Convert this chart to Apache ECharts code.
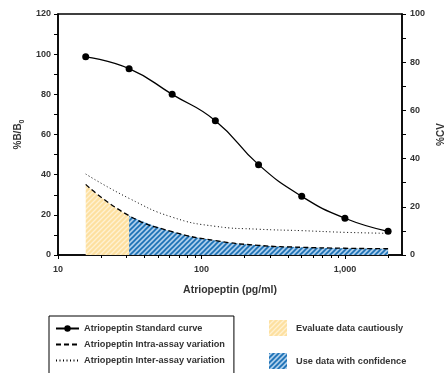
<!DOCTYPE html>
<html>
<head>
<meta charset="utf-8">
<script src="https://cdn.jsdelivr.net/npm/echarts@6/dist/echarts.min.js"></script>
<style>html,body{margin:0;padding:0;background:#fff}#c{width:448px;height:373px}</style>
</head>
<body>
<div id="c"></div>
<script>
const concentrations = [15.6, 31.3, 62.5, 125, 250, 500, 1000, 2000];
const standardCurve = [98.7, 92.8, 80.0, 66.9, 45.0, 29.2, 18.3, 11.8];
const intraAssayCV = [29.3, 16.3, 9.7, 6.0, 4.0, 3.2, 2.8, 2.6];
const interAssayCV = [33.6, 23.5, 15.7, 11.9, 10.7, 10.1, 9.4, 9.0];
const xMajorTicks = [10, 100, 1000];
const xMinorTicks = [20, 30, 40, 50, 60, 70, 80, 90, 200, 300, 400, 500, 600, 700, 800, 900, 2000];
const seriesNames = ['Atriopeptin Standard curve', 'Atriopeptin Intra-assay variation', 'Atriopeptin Inter-assay variation'];
const zoneNames = ['Evaluate data cautiously', 'Use data with confidence'];
const confidenceStart = 31.3;

function pair(xs, ys) { return xs.map((x, i) => [x, ys[i]]); }
function stripes(bg, fg, size, w) {
  const c = document.createElement('canvas');
  c.width = size; c.height = size;
  const g = c.getContext('2d');
  g.fillStyle = bg; g.fillRect(0, 0, size, size);
  g.strokeStyle = fg; g.lineWidth = w; g.lineCap = 'square';
  g.beginPath();
  g.moveTo(-size, size); g.lineTo(size, -size);
  g.moveTo(0, 2 * size); g.lineTo(2 * size, 0);
  g.moveTo(-size / 2, size * 1.5); g.lineTo(size * 1.5, -size / 2);
  g.stroke();
  return c;
}
const yellowPat = { image: stripes('#fde0a0', '#fff1d2', 5, 1.3), repeat: 'repeat' };
const bluePat = { image: stripes('#aaccea', '#1a70b5', 5, 1.6), repeat: 'repeat' };

const FONT = 'Liberation Sans';
const txt = { fontFamily: FONT, fontWeight: 'bold', fontSize: 9, color: '#333' };
const gridRect = { left: 58, top: 14, right: 46, bottom: 118, outerBoundsMode: 'none', containLabel: false };

const chart = echarts.init(document.getElementById('c'), null, { renderer: 'canvas' });
const confIdx = concentrations.indexOf(confidenceStart);
chart.setOption({
  animation: false,
  grid: [
    Object.assign({ show: true, borderColor: '#000', borderWidth: 1.5 }, gridRect),
    Object.assign({ show: false }, gridRect)
  ],
  xAxis: [{
    type: 'log', min: 10, max: 2500, logBase: 10, gridIndex: 0,
    axisLine: { lineStyle: { color: '#000', width: 1.5 } },
    axisTick: { customValues: xMajorTicks, length: 4, lineStyle: { color: '#000', width: 1 } },
    axisLabel: Object.assign({ customValues: xMajorTicks, margin: 10, formatter: v => Math.round(v).toLocaleString('en-US') }, txt),
    splitLine: { show: false },
    name: 'Atriopeptin (pg/ml)', nameLocation: 'middle', nameGap: 30,
    nameTextStyle: { fontFamily: FONT, fontWeight: 'bold', fontSize: 10.5, color: '#333' }
  }, {
    type: 'log', min: 10, max: 2500, gridIndex: 1, position: 'bottom',
    axisLine: { show: false },
    axisTick: { customValues: xMinorTicks, length: 3, lineStyle: { color: '#000', width: 1 } },
    axisLabel: { show: false }, splitLine: { show: false }
  }],
  yAxis: [{
    type: 'value', min: 0, max: 120, interval: 20, gridIndex: 0,
    axisLine: { show: true, lineStyle: { color: '#000', width: 1.5 } },
    axisTick: { show: true, length: 4, lineStyle: { color: '#000', width: 1 } },
    minorTick: { show: true, splitNumber: 2, length: 4, lineStyle: { color: '#000', width: 1 } },
    axisLabel: Object.assign({ margin: 7 }, txt),
    splitLine: { show: false },
    name: '{a|%B/B}{s|0}', nameLocation: 'middle', nameRotate: 90, nameGap: 31,
    nameTextStyle: { rich: {
      a: { fontFamily: FONT, fontWeight: 'bold', fontSize: 10, color: '#333' },
      s: { fontFamily: FONT, fontWeight: 'bold', fontSize: 7, color: '#333', padding: [7, 0, 0, 0] }
    } }
  }, {
    type: 'value', min: 0, max: 100, interval: 20, position: 'right', gridIndex: 0,
    axisLine: { show: true, lineStyle: { color: '#000', width: 1.5 } },
    axisTick: { show: true, length: 4, lineStyle: { color: '#000', width: 1 } },
    minorTick: { show: true, splitNumber: 2, length: 4, lineStyle: { color: '#000', width: 1 } },
    axisLabel: Object.assign({ margin: 8 }, txt),
    splitLine: { show: false },
    name: '%CV', nameLocation: 'middle', nameRotate: 90, nameGap: 34,
    nameTextStyle: { fontFamily: FONT, fontWeight: 'bold', fontSize: 10, color: '#333' }
  }, {
    type: 'value', min: 0, max: 100, gridIndex: 1, show: false
  }],
  legend: [{
    orient: 'vertical', left: 49, top: 316, height: 120,
    data: [
      { name: seriesNames[0] },
      { name: seriesNames[1], itemStyle: { color: 'rgba(0,0,0,0)', borderWidth: 0 } },
      { name: seriesNames[2], itemStyle: { color: 'rgba(0,0,0,0)', borderWidth: 0 } }
    ],
    itemWidth: 23, itemHeight: 8, itemGap: 7,
    padding: [8, 9, 20, 6],
    borderColor: '#000', borderWidth: 1,
    textStyle: { fontFamily: FONT, fontWeight: 'bold', fontSize: 9.2, color: '#333' },
    selectedMode: false
  }, {
    orient: 'vertical', left: 269, top: 320, height: 80,
    data: [
      { name: zoneNames[0], icon: 'rect', itemStyle: { color: yellowPat, borderWidth: 0 } },
      { name: zoneNames[1], icon: 'rect', itemStyle: { color: bluePat, borderWidth: 0 } }
    ],
    itemWidth: 18, itemHeight: 16, itemGap: 17,
    padding: 0,
    textStyle: { fontFamily: FONT, fontWeight: 'bold', fontSize: 9.2, color: '#333', padding: [0, 0, 0, 4] },
    selectedMode: false
  }],
  series: [
    {
      name: zoneNames[0], type: 'line', xAxisIndex: 0, yAxisIndex: 1, smooth: true,
      data: pair(concentrations, intraAssayCV), symbol: 'none',
      lineStyle: { width: 0 }, itemStyle: { color: yellowPat },
      areaStyle: { color: yellowPat, opacity: 1 }, z: 1
    },
    {
      name: zoneNames[1], type: 'line', xAxisIndex: 0, yAxisIndex: 1, smooth: true,
      data: pair(concentrations.slice(confIdx), intraAssayCV.slice(confIdx)), symbol: 'none',
      lineStyle: { width: 0 }, itemStyle: { color: bluePat },
      areaStyle: { color: bluePat, opacity: 1 }, z: 2
    },
    {
      name: seriesNames[0], type: 'line', xAxisIndex: 0, yAxisIndex: 0, smooth: true,
      data: pair(concentrations, standardCurve), symbol: 'circle', symbolSize: 7,
      lineStyle: { color: '#000', width: 1.3 }, itemStyle: { color: '#000' }, z: 5
    },
    {
      name: seriesNames[1], type: 'line', xAxisIndex: 0, yAxisIndex: 1, smooth: true,
      data: pair(concentrations, intraAssayCV), symbol: 'none',
      lineStyle: { color: '#000', width: 1.3, type: [5, 3] }, itemStyle: { color: '#000' }, z: 4
    },
    {
      name: seriesNames[2], type: 'line', xAxisIndex: 0, yAxisIndex: 1, smooth: true,
      data: pair(concentrations, interAssayCV), symbol: 'none',
      lineStyle: { color: '#000', width: 1, type: [1, 2.5] }, itemStyle: { color: '#000' }, z: 4
    }
  ]
});
</script>
</body>
</html>
